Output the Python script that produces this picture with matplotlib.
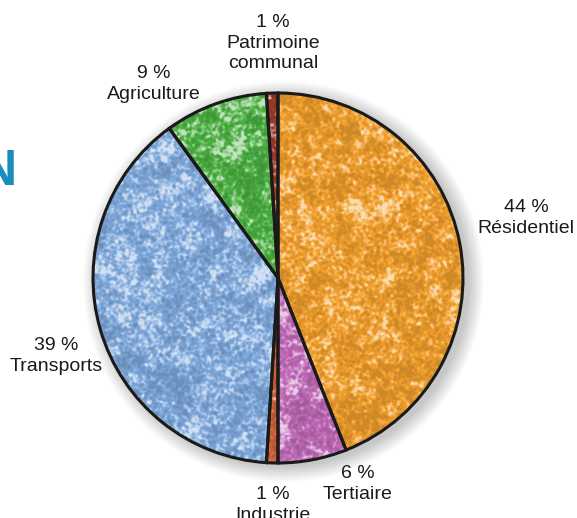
import numpy as np
import matplotlib.pyplot as plt
import matplotlib.colors as mcolors

plt.rcParams['font.family'] = ['Liberation Sans', 'DejaVu Sans']

# share of consumption per sector, clockwise from the top
sectors = ['Résidentiel', 'Tertiaire', 'Industrie', 'Transports', 'Agriculture',
           'Patrimoine\ncommunal']
shares = [44, 6, 1, 39, 9, 1]
colors = ['#f2a02e', '#c06bb8', '#d4643c', '#7fa9dc', '#4cb043', '#9c3a2c']

# label anchor points (pixel coords, y from the top)
label_xy = [(526, 218), (358, 484), (273, 505), (56, 356), (154, 84), (273, 43)]

W, H = 577, 518
cx, cy, R = 278, 518 - 278, 185

fig = plt.figure(figsize=(W / 100, H / 100), dpi=100)
ax = fig.add_axes([0, 0, 1, 1])

# soft shadow under the pie
yy, xx = np.mgrid[0:H, 0:W]
d = np.hypot(xx - (cx + 5), (H - yy) - (cy - 3))
sh = np.clip(1 - (d - R) / 16, 0, 1) * 0.22
shadow = np.zeros((H, W, 4))
shadow[..., 3] = sh
ax.imshow(shadow, extent=(0, W, 0, H), origin='upper', zorder=0)

wedges, _ = ax.pie(shares, colors=colors, startangle=90, counterclock=False,
                   center=(cx, cy), radius=R, frame=True,
                   wedgeprops=dict(edgecolor='#1a1a1a', linewidth=2.2))


def smooth_noise(rng, n, k):
    f = rng.random((n, n))
    F = np.fft.fft2(f)
    fy = np.fft.fftfreq(n)[:, None]
    fx = np.fft.fftfreq(n)[None, :]
    F *= np.exp(-(fx ** 2 + fy ** 2) * (k ** 2))
    g = np.real(np.fft.ifft2(F))
    g = (g - g.min()) / (g.max() - g.min())
    return g


# mottled texture inside each wedge
rng = np.random.default_rng(7)
n = 2 * R + 10
for w, c in zip(wedges, colors):
    base = np.array(mcolors.to_rgb(c))
    light = base + (1 - base) * 0.65
    dark = base * 0.85
    t = 0.6 * smooth_noise(rng, n, 5) + 0.4 * smooth_noise(rng, n, 25)
    t = np.clip((t - 0.5) * 2.8 + 0.45, 0, 1)[..., None]
    img = np.where(t > 0.5, base + (light - base) * (t - 0.5) * 2,
                   dark + (base - dark) * t * 2)
    im = ax.imshow(np.clip(img, 0, 1), extent=(cx - n / 2, cx + n / 2, cy - n / 2, cy + n / 2),
                   zorder=2, interpolation='bilinear')
    im.set_clip_path(w)
    w.set_zorder(3)
    w.set_facecolor('none')

ax.set_xlim(0, W)
ax.set_ylim(0, H)
ax.set_aspect('equal')
ax.axis('off')

for name, s, (lx, ly) in zip(sectors, shares, label_xy):
    ax.text(lx, H - ly, f'{s} %\n{name}', ha='center', va='center',
            fontsize=14, color='#1a1a1a', linespacing=1.25, zorder=5)

fig.text(17 / W, 1 - 172 / H, 'N', ha='right', va='center', fontsize=36,
         fontweight='bold', color='#1a8dc0')

fig.savefig('out.png', dpi=100)
